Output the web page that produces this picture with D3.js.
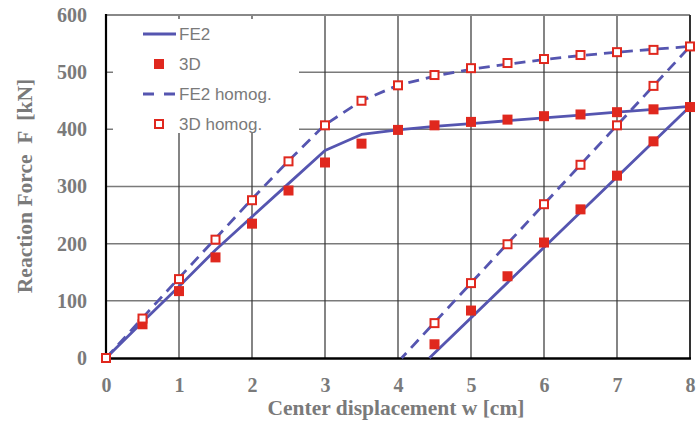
<!DOCTYPE html>
<html>
<head>
<meta charset="utf-8">
<script src="https://cdn.jsdelivr.net/npm/d3@7"></script>
<style>
  body { margin: 0; background: #fff; }
  svg { display: block; }
  .tick-label { font-family: "Liberation Serif", "Times New Roman", serif; font-weight: bold; font-size: 20px; fill: #7a7a7a; }
  .axis-title { font-family: "Liberation Serif", "Times New Roman", serif; font-weight: bold; font-size: 21.5px; fill: #7a7a7a; white-space: pre; }
  .legend-text { font-family: "Liberation Sans", Arial, sans-serif; font-size: 17px; fill: #7a7a7a; }
</style>
</head>
<body>
<svg></svg>
<script>
const width = 697;
const height = 425;
const plotLeft = 106, plotRight = 690, plotTop = 15, plotBottom = 358;

const lineColor = '#5555b0';
const markColor = '#e0281e';

/* chart data */
const xTicks = [0, 1, 2, 3, 4, 5, 6, 7, 8];
const yTicks = [0, 100, 200, 300, 400, 500, 600];

// FE2 curve: loading, then unloading back to zero
const fe2W = [0, 0.5, 1, 1.5, 2, 2.5, 3, 3.5, 4, 4.5, 5, 5.5, 6, 6.5, 7, 7.5, 8, 4.43];
const fe2F = [0, 63, 125, 189, 247, 305, 363, 391, 399, 405, 410, 415, 420, 425, 430, 435, 440, 0];

// FE2 homog. curve
const fe2hW = [0, 1, 2, 2.5, 3, 3.5, 4, 4.5, 5, 5.5, 6, 6.5, 7, 7.5, 8, 4.05];
const fe2hF = [0, 140, 278, 345, 408, 450, 477, 493, 505, 514, 522, 529, 535, 540, 545, 0];

// 3D points (loading and unloading)
const d3dW = [0, 0.5, 1, 1.5, 2, 2.5, 3, 3.5, 4, 4.5, 5, 5.5, 6, 6.5, 7, 7.5, 8,
              7.5, 7, 6.5, 6, 5.5, 5, 4.5];
const d3dF = [0, 59, 117, 176, 235, 293, 342, 375, 399, 407, 413, 417, 423, 426, 430, 435, 439,
              379, 319, 260, 202, 143, 83, 24];

// 3D homog. points
const d3hW = [0, 0.5, 1, 1.5, 2, 2.5, 3, 3.5, 4, 4.5, 5, 5.5, 6, 6.5, 7, 7.5, 8,
              7.5, 7, 6.5, 6, 5.5, 5, 4.5];
const d3hF = [0, 69, 138, 207, 276, 344, 407, 450, 477, 495, 507, 516, 523, 530, 535, 539, 545,
              476, 407, 338, 269, 199, 131, 61];

const zip = (xs, ys) => xs.map((x, i) => ({ w: x, f: ys[i] }));

const svg = d3.select('svg')
  .attr('width', width)
  .attr('height', height);

const xScale = d3.scaleLinear().domain([0, 8]).range([plotLeft, plotRight]);
const yScale = d3.scaleLinear().domain([0, 600]).range([plotBottom, plotTop]);

/* gridlines */
svg.append('g')
  .selectAll('line')
  .data(yTicks.slice(1))
  .enter().append('line')
    .attr('x1', plotLeft).attr('x2', plotRight)
    .attr('y1', d => yScale(d)).attr('y2', d => yScale(d))
    .attr('stroke', '#7a7a7a')
    .attr('stroke-width', 1.5);

svg.append('g')
  .selectAll('line')
  .data(xTicks.slice(1))
  .enter().append('line')
    .attr('x1', d => xScale(d)).attr('x2', d => xScale(d))
    .attr('y1', plotTop).attr('y2', plotBottom)
    .attr('stroke', '#333')
    .attr('stroke-width', 1.2);

/* legend background hides the grid */
svg.append('rect')
  .attr('x', 113).attr('y', 19)
  .attr('width', 186).attr('height', 114)
  .attr('fill', '#fff');

/* frame */
svg.append('line')
  .attr('x1', plotLeft).attr('x2', plotRight).attr('y1', plotTop).attr('y2', plotTop)
  .attr('stroke', '#888').attr('stroke-width', 2);
svg.append('line')
  .attr('x1', plotRight).attr('x2', plotRight).attr('y1', plotTop).attr('y2', plotBottom)
  .attr('stroke', '#333').attr('stroke-width', 2);
svg.append('line')
  .attr('x1', plotLeft).attr('x2', plotLeft).attr('y1', plotTop - 1).attr('y2', plotBottom)
  .attr('stroke', '#000').attr('stroke-width', 2.2);
svg.append('line')
  .attr('x1', plotLeft - 1).attr('x2', plotRight + 1).attr('y1', plotBottom + 0.5).attr('y2', plotBottom + 0.5)
  .attr('stroke', '#000').attr('stroke-width', 2.5);

/* axes (labels only) */
const xAxis = svg.append('g')
  .attr('transform', `translate(0, ${plotBottom})`)
  .call(d3.axisBottom(xScale).tickValues(xTicks).tickSize(0).tickPadding(20).tickFormat(d3.format('d')));
const yAxis = svg.append('g')
  .attr('transform', `translate(${plotLeft}, 0)`)
  .call(d3.axisLeft(yScale).tickValues(yTicks).tickSize(0).tickPadding(19).tickFormat(d3.format('d')));
[xAxis, yAxis].forEach(ax => {
  ax.select('.domain').remove();
  ax.selectAll('text')
    .attr('class', 'tick-label')
    .attr('fill', null);
  ax.attr('font-size', null).attr('font-family', null);
});

/* axis titles */
svg.append('text')
  .attr('class', 'axis-title')
  .attr('x', 396).attr('y', 415)
  .attr('text-anchor', 'middle')
  .text('Center displacement w [cm]');

svg.append('text')
  .attr('class', 'axis-title')
  .attr('transform', 'translate(32, 186) rotate(-90)')
  .attr('text-anchor', 'middle')
  .text('Reaction Force  F  [kN]');

/* curves */
const line = d3.line()
  .x(d => xScale(d.w))
  .y(d => yScale(d.f));

svg.append('path')
  .datum(zip(fe2W, fe2F))
  .attr('d', line)
  .attr('fill', 'none')
  .attr('stroke', lineColor)
  .attr('stroke-width', 2.8)
  .attr('stroke-linejoin', 'round');

svg.append('path')
  .datum(zip(fe2hW, fe2hF))
  .attr('d', line)
  .attr('fill', 'none')
  .attr('stroke', lineColor)
  .attr('stroke-width', 2.8)
  .attr('stroke-dasharray', '11,7');

/* markers */
const sq = 10;
svg.append('g')
  .selectAll('rect')
  .data(zip(d3dW, d3dF))
  .enter().append('rect')
    .attr('x', d => xScale(d.w) - sq / 2)
    .attr('y', d => yScale(d.f) - sq / 2)
    .attr('width', sq).attr('height', sq)
    .attr('fill', markColor);

svg.append('g')
  .selectAll('rect')
  .data(zip(d3hW, d3hF))
  .enter().append('rect')
    .attr('x', d => xScale(d.w) - (sq - 2) / 2)
    .attr('y', d => yScale(d.f) - (sq - 2) / 2)
    .attr('width', sq - 2).attr('height', sq - 2)
    .attr('fill', '#fff')
    .attr('stroke', markColor)
    .attr('stroke-width', 2);

/* legend */
const legendItems = [
  { label: 'FE2', kind: 'line' },
  { label: '3D', kind: 'filled' },
  { label: 'FE2 homog.', kind: 'dash' },
  { label: '3D homog.', kind: 'open' }
];
const legend = svg.append('g');
legendItems.forEach((item, i) => {
  const y = 34 + i * 30;
  if (item.kind === 'line' || item.kind === 'dash') {
    legend.append('line')
      .attr('x1', 143).attr('x2', 176).attr('y1', y).attr('y2', y)
      .attr('stroke', lineColor)
      .attr('stroke-width', 2.8)
      .attr('stroke-dasharray', item.kind === 'dash' ? '11,10' : null);
  } else if (item.kind === 'filled') {
    legend.append('rect')
      .attr('x', 159 - sq / 2).attr('y', y - sq / 2)
      .attr('width', sq).attr('height', sq)
      .attr('fill', markColor);
  } else {
    legend.append('rect')
      .attr('x', 159 - (sq - 2) / 2).attr('y', y - (sq - 2) / 2)
      .attr('width', sq - 2).attr('height', sq - 2)
      .attr('fill', '#fff')
      .attr('stroke', markColor)
      .attr('stroke-width', 2);
  }
  legend.append('text')
    .attr('class', 'legend-text')
    .attr('x', 179).attr('y', y + 6)
    .text(item.label);
});
</script>
</body>
</html>
